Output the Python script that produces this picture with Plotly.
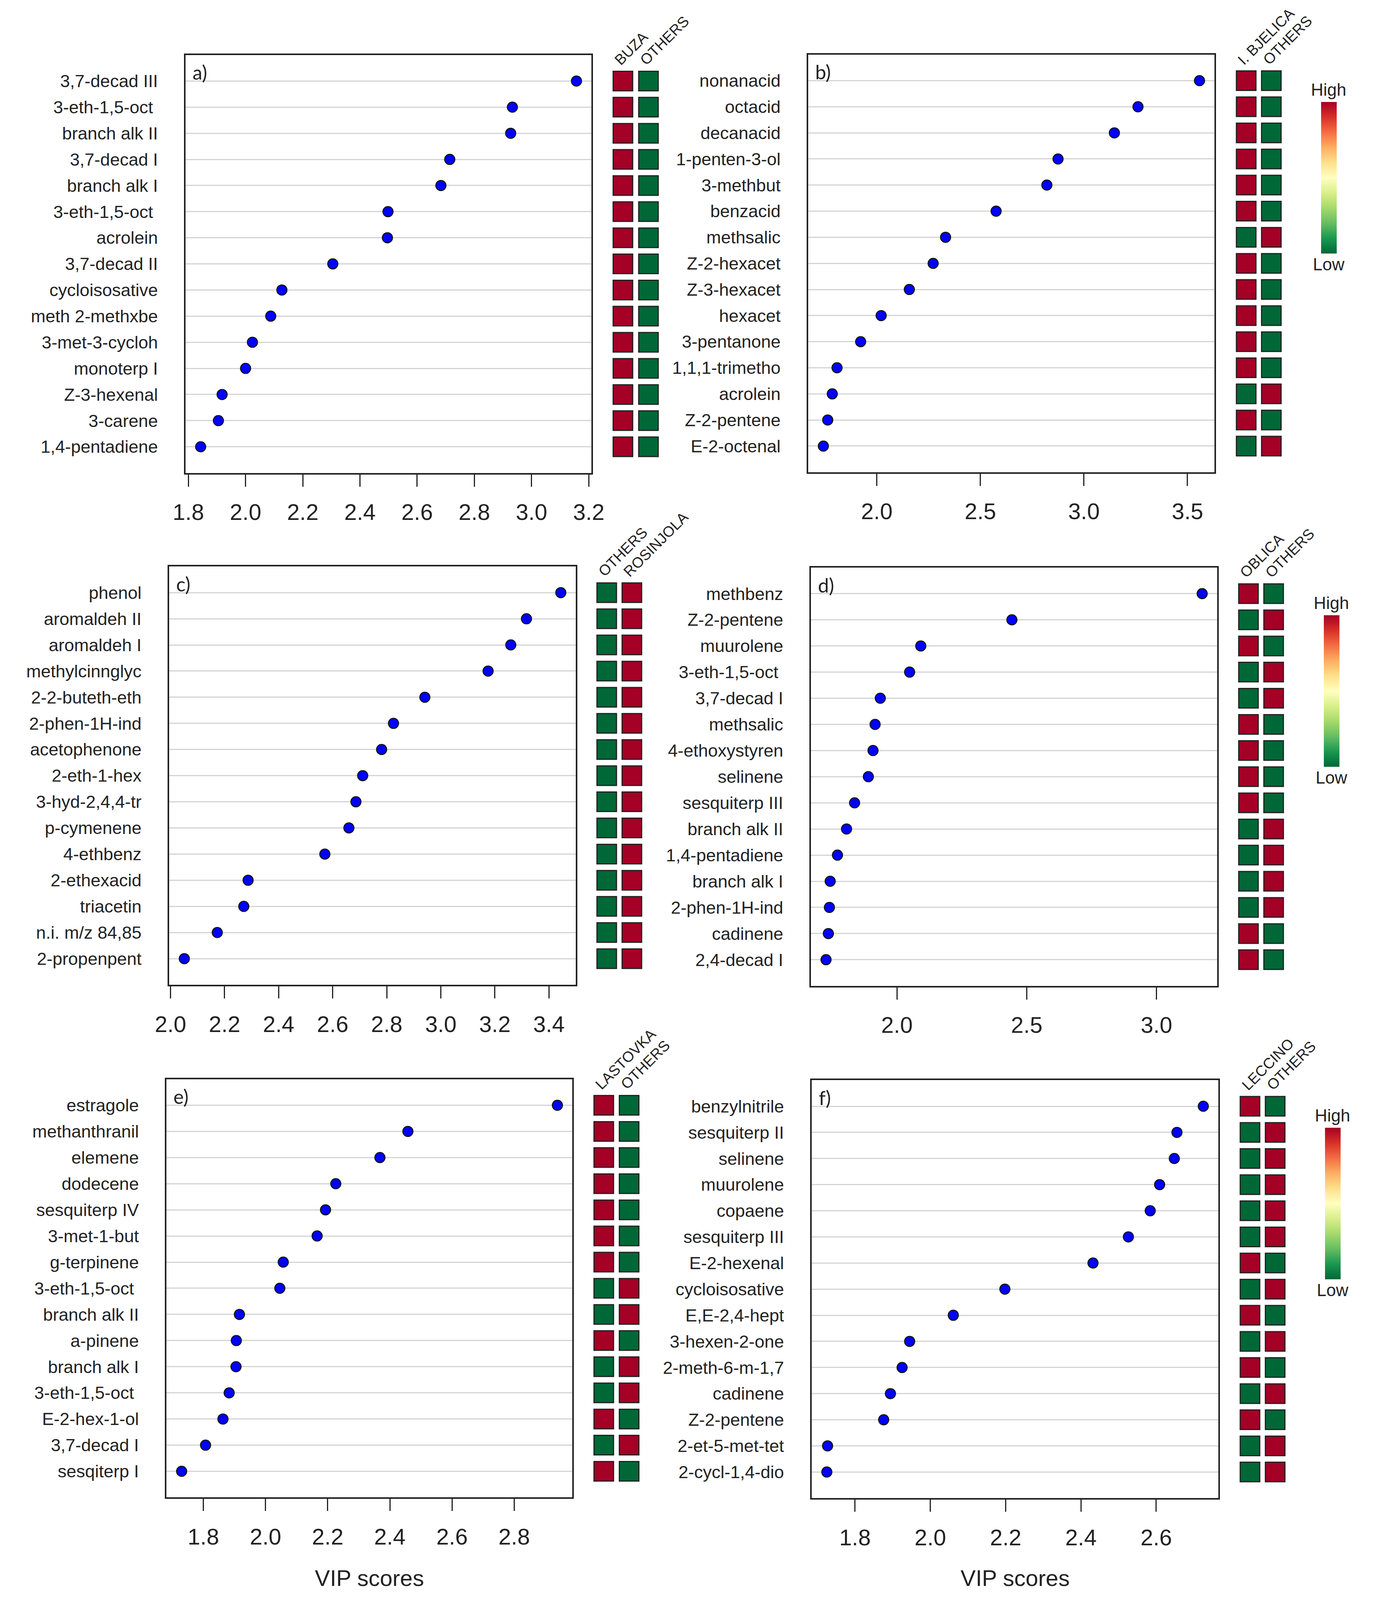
import plotly.graph_objects as go
import plotly.colors as pc

# ---- a) BUZA vs OTHERS ----
a_names = ["3,7-decad III", "3-eth-1,5-oct\u00a0", "branch alk II", "3,7-decad I", "branch alk I",
           "3-eth-1,5-oct\u00a0", "acrolein", "3,7-decad II", "cycloisosative", "meth 2-methxbe",
           "3-met-3-cycloh", "monoterp I", "Z-3-hexenal", "3-carene", "1,4-pentadiene"]
a_vip = [3.157, 2.933, 2.927, 2.714, 2.683, 2.498, 2.496, 2.305, 2.127, 2.088, 2.024, 2.0, 1.918, 1.905, 1.843]
a_groups = ["BUZA", "OTHERS"]
a_col1 = [1, 1, 1, 1, 1, 1, 1, 1, 1, 1, 1, 1, 1, 1, 1]
a_col2 = [0, 0, 0, 0, 0, 0, 0, 0, 0, 0, 0, 0, 0, 0, 0]

# ---- b) I. BJELICA vs OTHERS ----
b_names = ["nonanacid", "octacid", "decanacid", "1-penten-3-ol", "3-methbut", "benzacid", "methsalic",
           "Z-2-hexacet", "Z-3-hexacet", "hexacet", "3-pentanone", "1,1,1-trimetho", "acrolein",
           "Z-2-pentene", "E-2-octenal"]
b_vip = [3.558, 3.261, 3.147, 2.875, 2.821, 2.576, 2.332, 2.272, 2.157, 2.021, 1.922, 1.808, 1.785, 1.763, 1.742]
b_groups = ["I. BJELICA", "OTHERS"]
b_col1 = [1, 1, 1, 1, 1, 1, 0, 1, 1, 1, 1, 1, 0, 1, 0]
b_col2 = [0, 0, 0, 0, 0, 0, 1, 0, 0, 0, 0, 0, 1, 0, 1]

# ---- c) OTHERS vs ROSINJOLA ----
c_names = ["phenol", "aromaldeh II", "aromaldeh I", "methylcinnglyc", "2-2-buteth-eth", "2-phen-1H-ind",
           "acetophenone", "2-eth-1-hex", "3-hyd-2,4,4-tr", "p-cymenene", "4-ethbenz", "2-ethexacid",
           "triacetin", "n.i. m/z 84,85", "2-propenpent"]
c_vip = [3.444, 3.317, 3.259, 3.175, 2.941, 2.825, 2.781, 2.711, 2.686, 2.660, 2.571, 2.287, 2.271, 2.173, 2.051]
c_groups = ["OTHERS", "ROSINJOLA"]
c_col1 = [0, 0, 0, 0, 0, 0, 0, 0, 0, 0, 0, 0, 0, 0, 0]
c_col2 = [1, 1, 1, 1, 1, 1, 1, 1, 1, 1, 1, 1, 1, 1, 1]

# ---- d) OBLICA vs OTHERS ----
d_names = ["methbenz", "Z-2-pentene", "muurolene", "3-eth-1,5-oct\u00a0", "3,7-decad I", "methsalic",
           "4-ethoxystyren", "selinene", "sesquiterp III", "branch alk II", "1,4-pentadiene",
           "branch alk I", "2-phen-1H-ind", "cadinene", "2,4-decad I"]
d_vip = [3.176, 2.443, 2.092, 2.049, 1.936, 1.916, 1.908, 1.890, 1.837, 1.806, 1.771, 1.743, 1.740, 1.736, 1.727]
d_groups = ["OBLICA", "OTHERS"]
d_col1 = [1, 0, 1, 0, 0, 1, 1, 1, 1, 0, 0, 0, 0, 1, 1]
d_col2 = [0, 1, 0, 1, 1, 0, 0, 0, 0, 1, 1, 1, 1, 0, 0]

# ---- e) LASTOVKA vs OTHERS ----
e_names = ["estragole", "methanthranil", "elemene", "dodecene", "sesquiterp IV", "3-met-1-but",
           "g-terpinene", "3-eth-1,5-oct\u00a0", "branch alk II", "a-pinene", "branch alk I",
           "3-eth-1,5-oct\u00a0", "E-2-hex-1-ol", "3,7-decad I", "sesqiterp I"]
e_vip = [2.939, 2.458, 2.368, 2.226, 2.193, 2.166, 2.057, 2.046, 1.916, 1.906, 1.905, 1.883, 1.863, 1.807, 1.730]
e_groups = ["LASTOVKA", "OTHERS"]
e_col1 = [1, 1, 1, 1, 1, 1, 1, 0, 0, 1, 0, 0, 1, 0, 1]
e_col2 = [0, 0, 0, 0, 0, 0, 0, 1, 1, 0, 1, 1, 0, 1, 0]

# ---- f) LECCINO vs OTHERS ----
f_names = ["benzylnitrile", "sesquiterp II", "selinene", "muurolene", "copaene", "sesquiterp III",
           "E-2-hexenal", "cycloisosative", "E,E-2,4-hept", "3-hexen-2-one", "2-meth-6-m-1,7",
           "cadinene", "Z-2-pentene", "2-et-5-met-tet", "2-cycl-1,4-dio"]
f_vip = [2.725, 2.655, 2.648, 2.609, 2.584, 2.526, 2.432, 2.198, 2.061, 1.945, 1.925, 1.894, 1.876, 1.727, 1.725]
f_groups = ["LECCINO", "OTHERS"]
f_col1 = [1, 0, 0, 0, 0, 0, 1, 0, 1, 0, 1, 0, 1, 0, 0]
f_col2 = [0, 1, 1, 1, 1, 1, 0, 1, 0, 1, 0, 1, 0, 1, 1]

# reference canvas (layout positions below are measured on it, used as fractions)
W, H = 3520, 4648
FONT = "Liberation Sans, Arial, sans-serif"
INK = "#222222"

# RdYlGn, low = green, high = red
rdylgn = pc.diverging.RdYlGn[::-1]
cscale = [[i / (len(rdylgn) - 1), c] for i, c in enumerate(rdylgn)]

# (letter, names, vip, groups, col1, col2, frame px [l, r, t, b], heat px [l, r], dtick, colorbar)
panels = [
    ("a)", a_names, a_vip, a_groups, a_col1, a_col2, [441, 1506, 151, 1370], [1555, 1689], 0.2, False),
    ("b)", b_names, b_vip, b_groups, b_col1, b_col2, [2075, 3141, 150, 1368], [3191, 3323], 0.5, True),
    ("c)", c_names, c_vip, c_groups, c_col1, c_col2, [398, 1465, 1643, 2863], [1513, 1645], 0.2, False),
    ("d)", d_names, d_vip, d_groups, d_col1, d_col2, [2082, 3148, 1646, 2866], [3197, 3329], 0.5, True),
    ("e)", e_names, e_vip, e_groups, e_col1, e_col2, [391, 1456, 3138, 4358], [1505, 1638], 0.2, False),
    ("f)", f_names, f_vip, f_groups, f_col1, f_col2, [2084, 3151, 3141, 4360], [3201, 3333], 0.2, True),
]

fig = go.Figure()
layout = {}
annotations = []


def px_x(v):
    return v / W


def px_y(v):
    return 1 - v / H


def ref(letter, i):
    return letter if i == 1 else f"{letter}{i}"


for k, (letter, names, vip, groups, col1, col2, frame, heat, dtick, cbar) in enumerate(panels):
    n = len(names)
    rows = list(range(n))
    xd, yd = ref("x", k + 1), ref("y", k + 1)
    xh, yh = ref("x", k + 7), ref("y", k + 7)
    l, r, t, b = frame

    # R dotchart style range: data range padded by 4 %
    span = max(vip) - min(vip)
    xlo, xhi = min(vip) - 0.04 * span, max(vip) + 0.04 * span
    tick0 = round(xlo / dtick + 0.4999) * dtick

    ydom = [px_y(b), px_y(t)]

    layout["xaxis" + xd[1:]] = dict(
        domain=[px_x(l), px_x(r)], anchor=yd, range=[xlo, xhi],
        tick0=tick0, dtick=dtick, tickformat=".1f", ticks="outside", ticklen=31, tickwidth=3,
        tickcolor=INK, tickfont=dict(family=FONT, size=58, color=INK), ticklabelstandoff=16,
        showline=True, mirror=True, linecolor=INK, linewidth=4, showgrid=False, zeroline=False,
    )
    layout["yaxis" + yd[1:]] = dict(
        domain=ydom, anchor=xd, range=[n, -1], tickmode="array",
        tickvals=rows, ticktext=names, ticks="", ticklabelstandoff=58,
        tickfont=dict(family=FONT, size=45, color=INK),
        showline=True, mirror=True, linecolor=INK, linewidth=4,
        showgrid=True, gridcolor="#d4d4d4", gridwidth=3, zeroline=False,
    )
    layout["xaxis" + xh[1:]] = dict(
        domain=[px_x(heat[0]), px_x(heat[1])], anchor=yh, range=[-0.5, 1.5],
        visible=False, showgrid=False, zeroline=False,
    )
    layout["yaxis" + yh[1:]] = dict(
        domain=ydom, anchor=xh, range=[n, -1], visible=False,
        showgrid=False, zeroline=False,
    )

    # dots
    fig.add_trace(go.Scatter(
        x=vip, y=rows, mode="markers", xaxis=xd, yaxis=yd,
        marker=dict(symbol="circle", size=26, color="#0000ff", line=dict(color="#111111", width=2.5)),
        showlegend=False, hoverinfo="x+text", text=names,
    ))

    # high / low squares
    cb = dict(x=0, xanchor="left", y=0, yanchor="middle", len=0.0951, lenmode="fraction",
              thickness=40, thicknessmode="pixels", outlinewidth=0, showticklabels=False,
              ticks="", xpad=0, ypad=0)
    if cbar:
        cb["x"] = px_x(r + 280)
        cb["y"] = px_y((t + b) / 2 - 250)
    fig.add_trace(go.Scatter(
        x=[0] * n + [1] * n, y=rows + rows, mode="markers", xaxis=xh, yaxis=yh,
        marker=dict(symbol="square", size=50, color=col1 + col2, colorscale=cscale, cmin=0, cmax=1,
                    line=dict(color=INK, width=3), showscale=cbar, colorbar=cb),
        showlegend=False, hoverinfo="skip",
    ))

    # panel letter
    annotations.append(dict(
        text=letter, xref=xd + " domain", yref=yd + " domain", x=0.015, y=0.988,
        xanchor="left", yanchor="top", showarrow=False,
        font=dict(family="Lato, Open Sans, sans-serif", size=50, color=INK),
    ))
    # group headers, rotated
    for j, g in enumerate(groups):
        annotations.append(dict(
            text=g, xref=xh, yref=yh, x=j - 0.5, y=-0.45,
            xanchor="left", yanchor="bottom", textangle=-45, showarrow=False,
            font=dict(family=FONT, size=38, color=INK),
        ))
    if cbar:
        cx = px_x(r + 280 + 20)
        cy_mid = (t + b) / 2 - 250
        annotations.append(dict(text="High", xref="paper", yref="paper", x=cx, y=px_y(cy_mid - 257),
                                xanchor="center", yanchor="middle", showarrow=False,
                                font=dict(family=FONT, size=44, color=INK)))
        annotations.append(dict(text="Low", xref="paper", yref="paper", x=cx, y=px_y(cy_mid + 253),
                                xanchor="center", yanchor="middle", showarrow=False,
                                font=dict(family=FONT, size=44, color=INK)))

# x-axis titles under the bottom row
for i in (5, 6):
    annotations.append(dict(text="VIP scores", xref=ref("x", i) + " domain", yref="paper", x=0.5,
                            y=px_y(4593), xanchor="center", yanchor="middle", showarrow=False,
                            font=dict(family=FONT, size=58, color=INK)))

# size follows the browser window so the whole figure is in view
fig.update_layout(
    autosize=True, margin=dict(l=0, r=0, t=0, b=0),
    paper_bgcolor="white", plot_bgcolor="white", showlegend=False,
    annotations=annotations, **layout,
)

fig.write_html("out.html", default_width="100%", default_height="calc(100vh - 16px)")
